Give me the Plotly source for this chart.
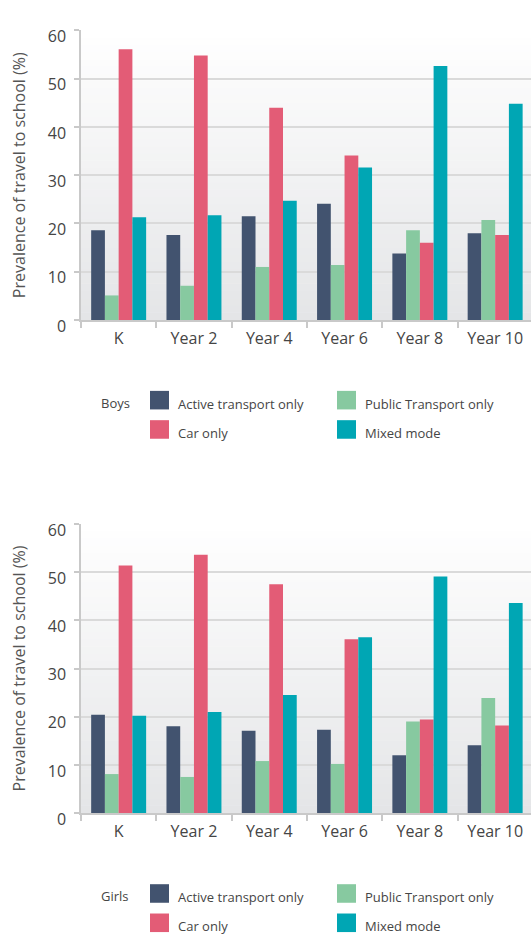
import plotly.graph_objects as go

# ---------------- data ----------------
categories = ["K", "Year 2", "Year 4", "Year 6", "Year 8", "Year 10"]
series_names = ["Active transport only", "Public Transport only", "Car only", "Mixed mode"]

boys_active = [18.6, 17.6, 21.5, 24.1, 13.8, 18.0]
boys_public = [5.1, 7.1, 11.0, 11.4, 18.6, 20.7]
boys_car = [56.1, 54.8, 44.0, 34.1, 16.0, 17.6]
boys_mixed = [21.3, 21.7, 24.7, 31.6, 52.6, 44.8]

girls_active = [20.4, 18.0, 17.1, 17.3, 12.0, 14.1]
girls_public = [8.1, 7.5, 10.8, 10.2, 19.0, 23.9]
girls_car = [51.4, 53.6, 47.5, 36.1, 19.4, 18.2]
girls_mixed = [20.2, 21.0, 24.5, 36.5, 49.1, 43.6]

y_ticks = [0, 10, 20, 30, 40, 50, 60]
y_title = "Prevalence of travel to school (%)"

colors = ["#42536f", "#87c9a0", "#e35c76", "#00a6b4"]

W, H = 531, 952
FONT = "Open Sans"
TXT = "#454545"

fig = go.Figure()

groups = [
    ("Boys", [boys_active, boys_public, boys_car, boys_mixed], "x", "y"),
    ("Girls", [girls_active, girls_public, girls_car, girls_mixed], "x2", "y2"),
]
for gname, vals, xa, ya in groups:
    for name, v, c in zip(series_names, vals, colors):
        fig.add_trace(go.Bar(
            x=categories, y=v, name=name, marker=dict(color=c, line=dict(width=0)),
            xaxis=xa, yaxis=ya, showlegend=False,
            hovertemplate=gname + " – " + name + "<br>%{x}: %{y}%<extra></extra>",
        ))

# plot areas in pixels
top_px = (26.0, 322.5)
bot_px = (531.3, 827.2)
x_left = 81.0

def ydom(p):
    return [1 - p[1] / H, 1 - p[0] / H]

xdom = [x_left / W, 1.0]

axis_common_x = dict(
    type="category", range=[-0.5, 5.476], showline=True, linecolor="#c9c9c9", linewidth=1.5,
    ticks="outside", tickson="boundaries", ticklen=6, tickcolor="#c9c9c9", tickwidth=1.5,
    ticklabelstandoff=3,
    tickfont=dict(family=FONT, size=16, color=TXT), showgrid=False, fixedrange=True,
)
axis_common_y = dict(
    range=[0, 60], tickvals=y_ticks, showline=True, linecolor="#c9c9c9", linewidth=1.5,
    ticks="outside", ticklen=5, tickcolor="#c9c9c9", tickwidth=1.5,
    ticklabelstandoff=5, ticklabelshift=6,
    showgrid=True, gridcolor="#dadada", gridwidth=1.6, zeroline=False,
    tickfont=dict(family=FONT, size=16, color=TXT), fixedrange=True,
    title=dict(text=y_title, font=dict(family=FONT, size=16, color="#555555"), standoff=18),
)

fig.update_layout(
    width=W, height=H, margin=dict(l=0, r=0, t=0, b=0),
    paper_bgcolor="white", plot_bgcolor="rgba(0,0,0,0)",
    barmode="group", bargap=0.27, bargroupgap=0,
    font=dict(family=FONT, color=TXT),
    showlegend=False,
    xaxis=dict(domain=xdom, anchor="y", **axis_common_x),
    yaxis=dict(domain=ydom(top_px), anchor="x", **axis_common_y),
    xaxis2=dict(domain=xdom, anchor="y2", **axis_common_x),
    yaxis2=dict(domain=ydom(bot_px), anchor="x2", **axis_common_y),
)

# vertical gradient background inside each plot area
n_strips = 40
top_rgb = (255, 255, 255)
bot_rgb = (228, 229, 231)
shapes = []
for xr, yr in (("x domain", "y domain"), ("x2 domain", "y2 domain")):
    for i in range(n_strips):
        t = (i + 0.5) / n_strips  # 0 at bottom -> 1 at top
        rgb = tuple(round(b + (tp - b) * t) for b, tp in zip(bot_rgb, top_rgb))
        shapes.append(dict(
            type="rect", xref=xr, yref=yr, x0=0, x1=1,
            y0=i / n_strips, y1=(i + 1) / n_strips + 0.002,
            fillcolor="rgb(%d,%d,%d)" % rgb, line=dict(width=0), layer="below",
        ))

# manual legends (2x2 grid with group label)
annotations = []
legend_specs = [("Boys", 404.5, 434.5), ("Girls", 909.5, 939.5)]
col_sq = [150.0, 337.0]
sq = 19.0
for label, r1, r2 in legend_specs:
    annotations.append(dict(
        text=label, x=99 / W, y=1 - (r1 + 3) / H, xref="paper", yref="paper",
        xanchor="left", yanchor="middle", showarrow=False,
        font=dict(family=FONT, size=13, color=TXT),
    ))
    cells = [(0, r1), (1, r1), (0, r2), (1, r2)]
    for (ci, rc), name, c in zip(cells, series_names, colors):
        x0 = col_sq[ci]
        shapes.append(dict(
            type="rect", xref="paper", yref="paper",
            x0=x0 / W, x1=(x0 + sq) / W, y0=1 - (rc + sq / 2) / H, y1=1 - (rc - sq / 2) / H,
            fillcolor=c, line=dict(width=0),
        ))
        annotations.append(dict(
            text=name, x=(x0 + sq + 7) / W, y=1 - (rc + 3.5) / H, xref="paper", yref="paper",
            xanchor="left", yanchor="middle", showarrow=False,
            font=dict(family=FONT, size=13, color=TXT),
        ))

fig.update_layout(shapes=shapes, annotations=annotations)

post = (
    "document.body.style.margin='0';document.body.style.padding='0';"
    "document.body.style.overflow='hidden';"
    "document.documentElement.style.overflow='hidden';"
)
fig.write_html("out.html", config={"displayModeBar": False}, post_script=post)
